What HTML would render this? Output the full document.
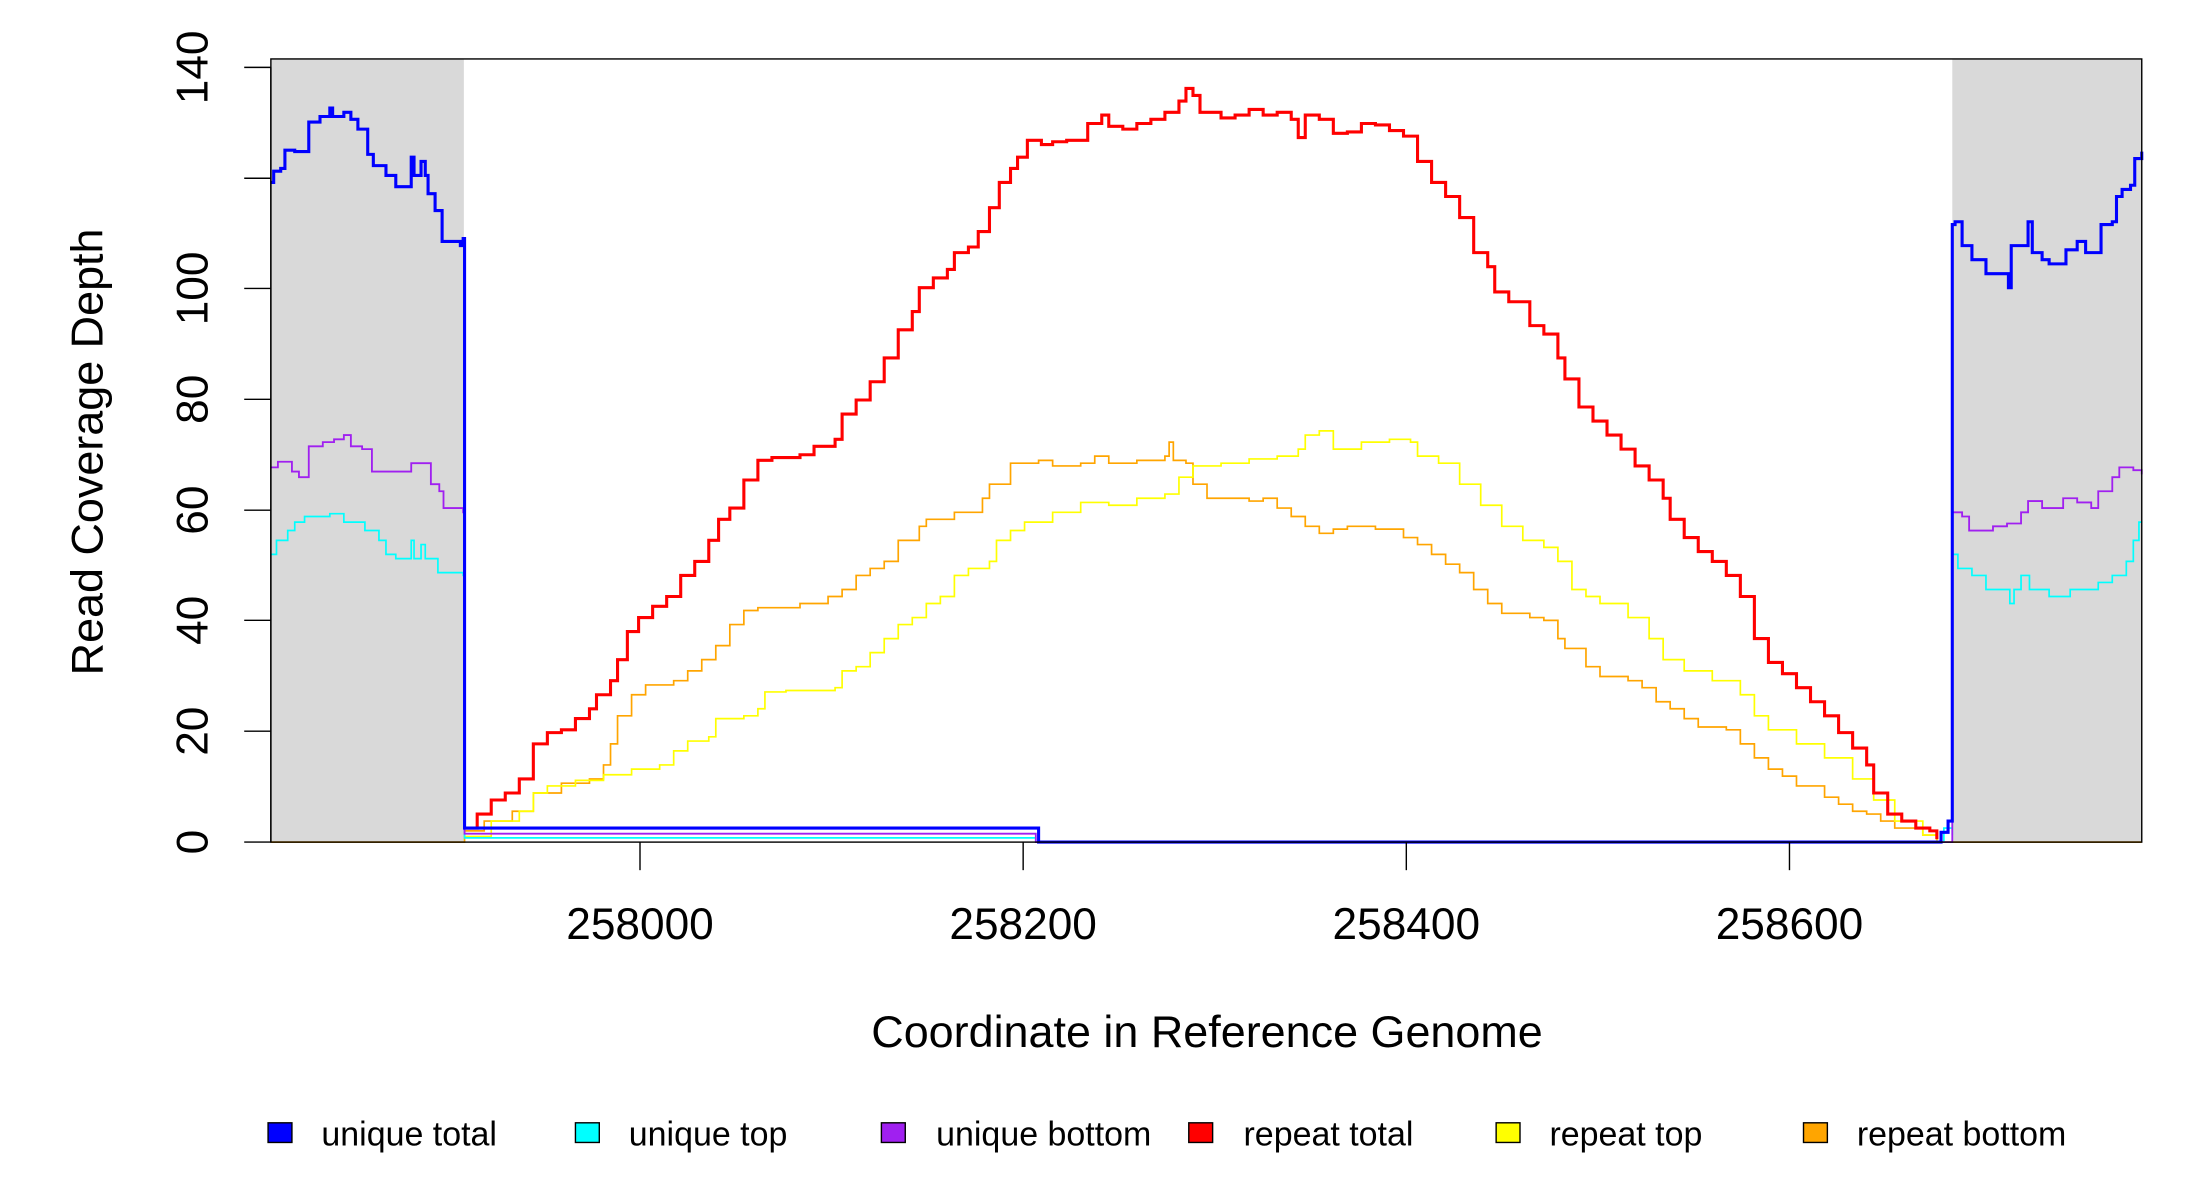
<!DOCTYPE html>
<html><head><meta charset="utf-8"><style>html,body{margin:0;padding:0;background:#fff}svg{display:block}</style></head>
<body>
<svg id="s" width="2200" height="1200" viewBox="0 0 1567.5 855" preserveAspectRatio="none" xmlns="http://www.w3.org/2000/svg" font-family="Liberation Sans, Arial, sans-serif">
<rect x="193" y="42" width="137.5" height="558" fill="#d9d9d9"/>
<rect x="1391" y="42" width="135" height="558" fill="#d9d9d9"/>
<g id="lines" fill="none"></g>
<rect x="193" y="42" width="1333" height="558" fill="none" stroke="#000" stroke-width="1"/>
<g stroke="#000" stroke-width="1">
<line x1="193" y1="48" x2="193" y2="600"/>
<line x1="174" y1="600" x2="193" y2="600"/><line x1="174" y1="521" x2="193" y2="521"/>
<line x1="174" y1="442" x2="193" y2="442"/><line x1="174" y1="363.5" x2="193" y2="363.5"/>
<line x1="174" y1="284.5" x2="193" y2="284.5"/><line x1="174" y1="205.5" x2="193" y2="205.5"/>
<line x1="174" y1="127" x2="193" y2="127"/><line x1="174" y1="48" x2="193" y2="48"/>
<line x1="456" y1="600" x2="456" y2="620"/><line x1="729" y1="600" x2="729" y2="620"/>
<line x1="1002" y1="600" x2="1002" y2="620"/><line x1="1275" y1="600" x2="1275" y2="620"/>
</g>
<g font-size="31.5" text-anchor="middle" fill="#000">
<text transform="translate(148,600) rotate(-90)">0</text>
<text transform="translate(148,521) rotate(-90)">20</text>
<text transform="translate(148,442) rotate(-90)">40</text>
<text transform="translate(148,363.5) rotate(-90)">60</text>
<text transform="translate(148,284.5) rotate(-90)">80</text>
<text transform="translate(148,205.5) rotate(-90)">100</text>
<text transform="translate(148,48) rotate(-90)">140</text>
<text x="456" y="669">258000</text><text x="729" y="669">258200</text>
<text x="1002" y="669">258400</text><text x="1275" y="669">258600</text>
<text x="860" y="746" font-size="32">Coordinate in Reference Genome</text>
<text transform="translate(73,322) rotate(-90)" font-size="32">Read Coverage Depth</text>
</g>
<g font-size="24.2" fill="#000" stroke-width="1">
<rect x="191" y="800" width="17" height="14" fill="#0000ff" stroke="#000"/><text x="229" y="816">unique total</text>
<rect x="410" y="800" width="17" height="14" fill="#00ffff" stroke="#000"/><text x="448" y="816">unique top</text>
<rect x="628" y="800" width="17" height="14" fill="#a020f0" stroke="#000"/><text x="667" y="816">unique bottom</text>
<rect x="847" y="800" width="17" height="14" fill="#ff0000" stroke="#000"/><text x="886" y="816">repeat total</text>
<rect x="1066" y="800" width="17" height="14" fill="#ffff00" stroke="#000"/><text x="1104" y="816">repeat top</text>
<rect x="1285" y="800" width="17" height="14" fill="#ffa500" stroke="#000"/><text x="1323" y="816">repeat bottom</text>
</g>
</svg>
<script>
function P(a){var d="M"+a[0]+" "+a[1];for(var i=2;i<a.length;i+=2){d+=" H"+a[i]+" V"+a[i+1];}return d;}
var series=[
["#ffa500",1.2,[193,600,331,600,331,592,345,585,365,578,380,565,400,558,420,555,430,545,435,530,440,510,450,495,460,488,480,485,490,478,500,470,510,460,520,445,530,435,540,433,570,430,590,425,600,420,610,410,620,405,630,400,640,385,655,375,660,370,680,365,700,355,705,345,720,330,740,328,750,332,770,330,780,325,790,330,810,328,830,325,833,315,836,328,845,330,850,345,860,355,880,355,890,357,900,355,910,362,920,368,930,375,940,380,950,377,960,375,980,377,1000,383,1010,388,1020,395,1030,402,1040,408,1050,420,1060,430,1070,437,1090,440,1100,442,1110,455,1115,462,1130,475,1140,482,1160,485,1170,490,1180,500,1190,505,1200,512,1210,518,1230,520,1240,530,1250,540,1260,548,1270,553,1280,560,1300,568,1310,573,1320,578,1330,580,1340,585,1350,590,1370,595,1380,600,1526,600]],
["#ffff00",1.2,[331,596,350,585,370,578,380,565,390,560,410,556,430,552,450,548,470,545,480,535,490,528,505,525,510,512,530,510,540,505,545,493,560,492,580,492,595,490,600,478,610,475,620,465,630,455,640,445,650,440,660,430,670,425,680,410,690,405,705,400,710,385,720,378,730,372,750,365,770,358,790,360,810,355,830,352,840,340,850,332,870,330,890,327,910,325,925,320,930,310,940,307,950,320,970,315,990,313,1005,315,1010,325,1025,330,1040,345,1055,360,1070,375,1085,385,1100,390,1110,400,1120,420,1130,425,1140,430,1160,440,1175,455,1185,470,1200,478,1220,485,1240,495,1250,510,1260,520,1280,530,1300,540,1320,555,1335,570,1350,585,1370,595,1380,600]],
["#ff0000",2.2,[331,590,340,580,350,570,360,565,370,555,380,530,390,522,400,520,410,512,420,505,425,495,435,485,440,470,447,450,455,440,465,432,475,425,485,410,495,400,505,385,512,370,520,362,530,342,540,328,550,326,570,324,580,318,595,313,600,295,610,285,620,272,630,255,640,235,650,222,655,205,665,198,675,192,680,180,690,176,697,165,705,148,712,130,720,120,725,112,732,100,742,103,750,101,760,100,775,88,785,82,790,90,800,92,810,88,820,85,830,80,840,72,845,63,850,68,855,80,870,84,880,82,890,78,900,82,910,80,920,85,925,98,930,82,940,85,950,95,960,94,970,88,980,89,990,93,1000,97,1010,115,1020,130,1030,140,1040,155,1050,180,1060,190,1065,208,1075,215,1090,232,1100,238,1110,255,1115,270,1125,290,1135,300,1145,310,1155,320,1165,332,1175,342,1185,355,1190,370,1200,383,1210,393,1220,400,1230,410,1240,425,1250,455,1260,472,1270,480,1280,490,1290,500,1300,510,1310,522,1320,533,1330,545,1335,565,1345,580,1355,585,1365,590,1375,592,1380,598]],
["#00ffff",1.2,[193,395,197,385,205,378,210,372,217,368,235,366,245,372,260,378,270,385,275,395,282,398,293,385,295,398,300,388,303,398,305,398,312,408,330,410,331,597,738,597,738,600,1380,600,1385,590,1391,595,1391,395,1395,405,1405,410,1415,420,1430,420,1432,430,1435,420,1440,410,1446,420,1460,425,1475,420,1495,415,1505,410,1515,400,1520,385,1524,372,1526,372]],
["#a020f0",1.3,[193,333,198,329,208,336,213,340,220,318,230,315,238,313,245,310,250,318,258,320,265,336,290,336,293,330,305,330,307,345,313,350,316,362,329,362,330,365,331,594,738,594,738,600,1380,600,1391,595,1391,365,1398,368,1403,378,1420,375,1430,373,1440,365,1445,357,1455,362,1470,355,1480,358,1490,362,1495,350,1505,340,1510,333,1520,335,1526,338]],
["#0000ff",2.2,[193,130,195,122,200,120,203,107,210,108,220,87,228,83,235,77,237,83,240,83,245,80,250,85,255,92,262,110,266,118,275,125,282,133,290,133,293,112,295,125,300,115,303,125,305,138,310,150,315,172,328,175,330,170,331,590,736,590,740,600,1380,600,1383,593,1388,585,1391,160,1393,158,1398,175,1405,185,1415,195,1425,195,1431,205,1433,175,1440,175,1445,158,1448,180,1455,185,1460,188,1468,188,1472,178,1480,172,1486,180,1495,180,1497,160,1505,158,1508,140,1512,135,1518,132,1521,113,1526,108]]
];
var g=document.getElementById("lines"),h="";
series.forEach(function(s){h+='<path d="'+P(s[2])+'" stroke="'+s[0]+'" stroke-width="'+s[1]+'" stroke-linejoin="miter"/>';});
g.innerHTML=h;
</script>
</body></html>
